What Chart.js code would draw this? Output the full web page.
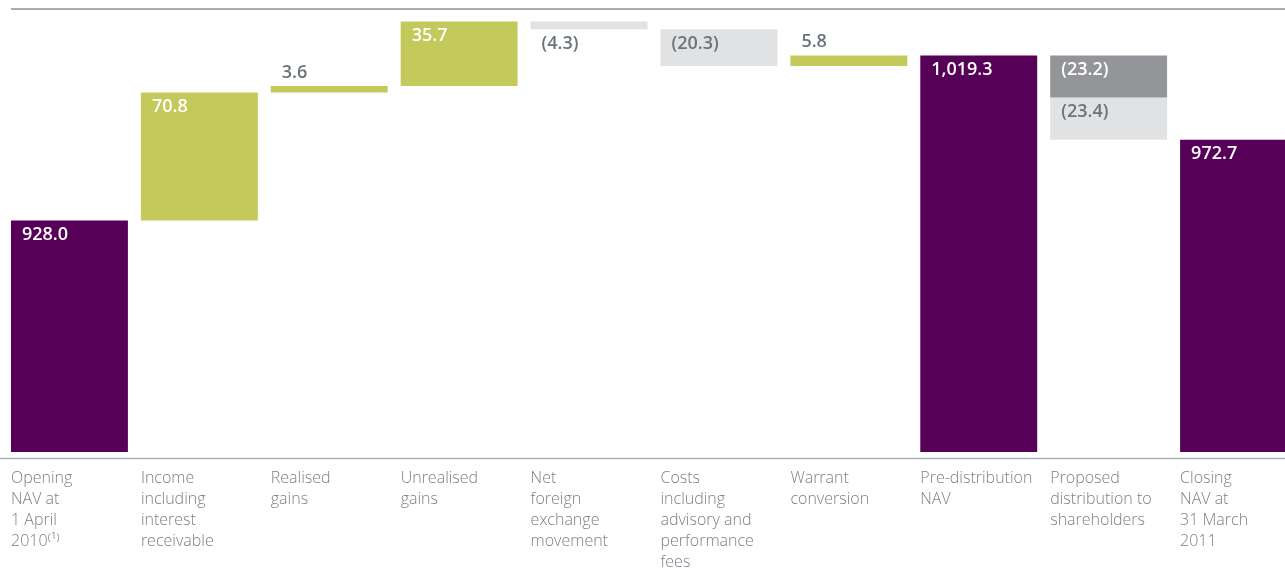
<!DOCTYPE html>
<html>
<head>
<meta charset="utf-8">
<title>NAV bridge</title>
<script src="https://cdn.jsdelivr.net/npm/chart.js@4/dist/chart.umd.min.js"></script>
<style>
  html, body { margin: 0; padding: 0; background: #fff; overflow: hidden; }
  #wrap { width: 1310px; height: 568px; position: relative; }
</style>
</head>
<body>
<div id="wrap"><canvas id="navChart"></canvas></div>
<script>
// Categories (one array of lines per bar)
const categories = [
  ["Opening", "NAV at", "1 April", "2010\u207D\u00B9\u207E"],
  ["Income", "including", "interest", "receivable"],
  ["Realised", "gains"],
  ["Unrealised", "gains"],
  ["Net", "foreign", "exchange", "movement"],
  ["Costs", "including", "advisory and", "performance", "fees"],
  ["Warrant", "conversion"],
  ["Pre-distribution", "NAV"],
  ["Proposed", "distribution to", "shareholders"],
  ["Closing", "NAV at", "31 March", "2011"]
];
// Movement in NAV (£m); totals are absolute levels
const kinds = ["total", "step", "step", "step", "step", "step", "step", "total", "step", "total"];
const movements = [928.0, 70.8, 3.6, 35.7, -4.3, -20.3, 5.8, 1019.3, -23.2, 972.7];
// Second part of the proposed distribution
const distributionPart2 = -23.4;
const axisMin = 800;
const axisMax = 1045;

const PURPLE = '#560057';
const GREEN = '#c4c95c';
const LIGHT = '#e1e2e4';
const DARK = '#949598';
const TEXT = '#6b737d';

// floating ranges built from the running total
let running = 0;
const ranges = [];
const colours = [];
const part2 = categories.map(() => null);
movements.forEach((v, i) => {
  if (kinds[i] === 'total') {
    ranges.push([axisMin, v]);
    colours.push(PURPLE);
    running = v;
  } else {
    ranges.push([running, running + v]);
    running += v;
    if (i === 8) {
      colours.push(DARK);
      part2[8] = [running, running + distributionPart2];
      running += distributionPart2;
    } else {
      colours.push(v >= 0 ? GREEN : LIGHT);
    }
  }
});

function fmt(v) {
  const s = Math.abs(v).toLocaleString('en-GB', { minimumFractionDigits: 1, maximumFractionDigits: 1 });
  return v < 0 ? '(' + s + ')' : s;
}

const labelFont = '600 18px "Open Sans"';

// value labels and category labels
const decorPlugin = {
  id: 'decor',
  afterDatasetsDraw(chart) {
    const ctx = chart.ctx;
    const area = chart.chartArea;
    const xs = chart.scales.x;
    ctx.save();

    // frame lines
    const firstLeft = xs.getPixelForValue(0) - chart.getDatasetMeta(0).data[0].width / 2;
    ctx.strokeStyle = '#8d9399';
    ctx.lineWidth = 1.6;
    ctx.beginPath();
    ctx.moveTo(firstLeft, area.top);
    ctx.lineTo(chart.width, area.top);
    ctx.stroke();
    ctx.strokeStyle = '#a9b1b8';
    ctx.lineWidth = 1.5;
    ctx.beginPath();
    ctx.moveTo(0, area.bottom + 6.5);
    ctx.lineTo(chart.width, area.bottom + 6.5);
    ctx.stroke();

    // value labels
    ctx.font = labelFont;
    ctx.textAlign = 'left';
    ctx.textBaseline = 'middle';
    const drawLabels = (dsIndex, values) => {
      chart.getDatasetMeta(dsIndex).data.forEach((bar, i) => {
        const v = values[i];
        if (v === null || v === undefined) return;
        const top = Math.min(bar.y, bar.base);
        const bottom = Math.max(bar.y, bar.base);
        const left = bar.x - bar.width / 2;
        const fill = chart.data.datasets[dsIndex].backgroundColor[i];
        let y;
        let colour;
        if (bottom - top < 20) {
          y = v >= 0 ? top - 13.5 : bottom + 14.5;
          colour = TEXT;
        } else {
          y = top + 14.5;
          colour = fill === LIGHT ? TEXT : '#ffffff';
        }
        ctx.fillStyle = colour;
        ctx.fillText(fmt(v), left + 11, y);
      });
    };
    drawLabels(0, movements);
    drawLabels(1, part2.map(r => (r ? distributionPart2 : null)));

    // category labels, left aligned under each bar
    ctx.font = '300 16px "Open Sans"';
    ctx.fillStyle = '#7b8087';
    ctx.textBaseline = 'alphabetic';
    chart.getDatasetMeta(0).data.forEach((bar, i) => {
      const left = bar.x - bar.width / 2;
      categories[i].forEach((line, j) => {
        ctx.fillText(line, left, area.bottom + 31 + j * 21);
      });
    });
    ctx.restore();
  }
};

const ctx = document.getElementById('navChart').getContext('2d');
const navChart = new Chart(ctx, {
  type: 'bar',
  data: {
    labels: categories.map(c => c.join(' ')),
    datasets: [
      { data: ranges, backgroundColor: colours, borderWidth: 0 },
      { data: part2, backgroundColor: categories.map(() => LIGHT), borderWidth: 0 }
    ]
  },
  options: {
    responsive: true,
    maintainAspectRatio: false,
    animation: false,
    layout: { padding: { left: 4.5, right: 6.5, top: 9, bottom: 116 } },
    plugins: { legend: { display: false }, tooltip: { enabled: false } },
    datasets: { bar: { barPercentage: 0.9, categoryPercentage: 1.0, grouped: false } },
    scales: {
      x: { display: false },
      y: { display: false, min: axisMin, max: axisMax }
    }
  },
  plugins: [decorPlugin]
});
</script>
</body>
</html>
